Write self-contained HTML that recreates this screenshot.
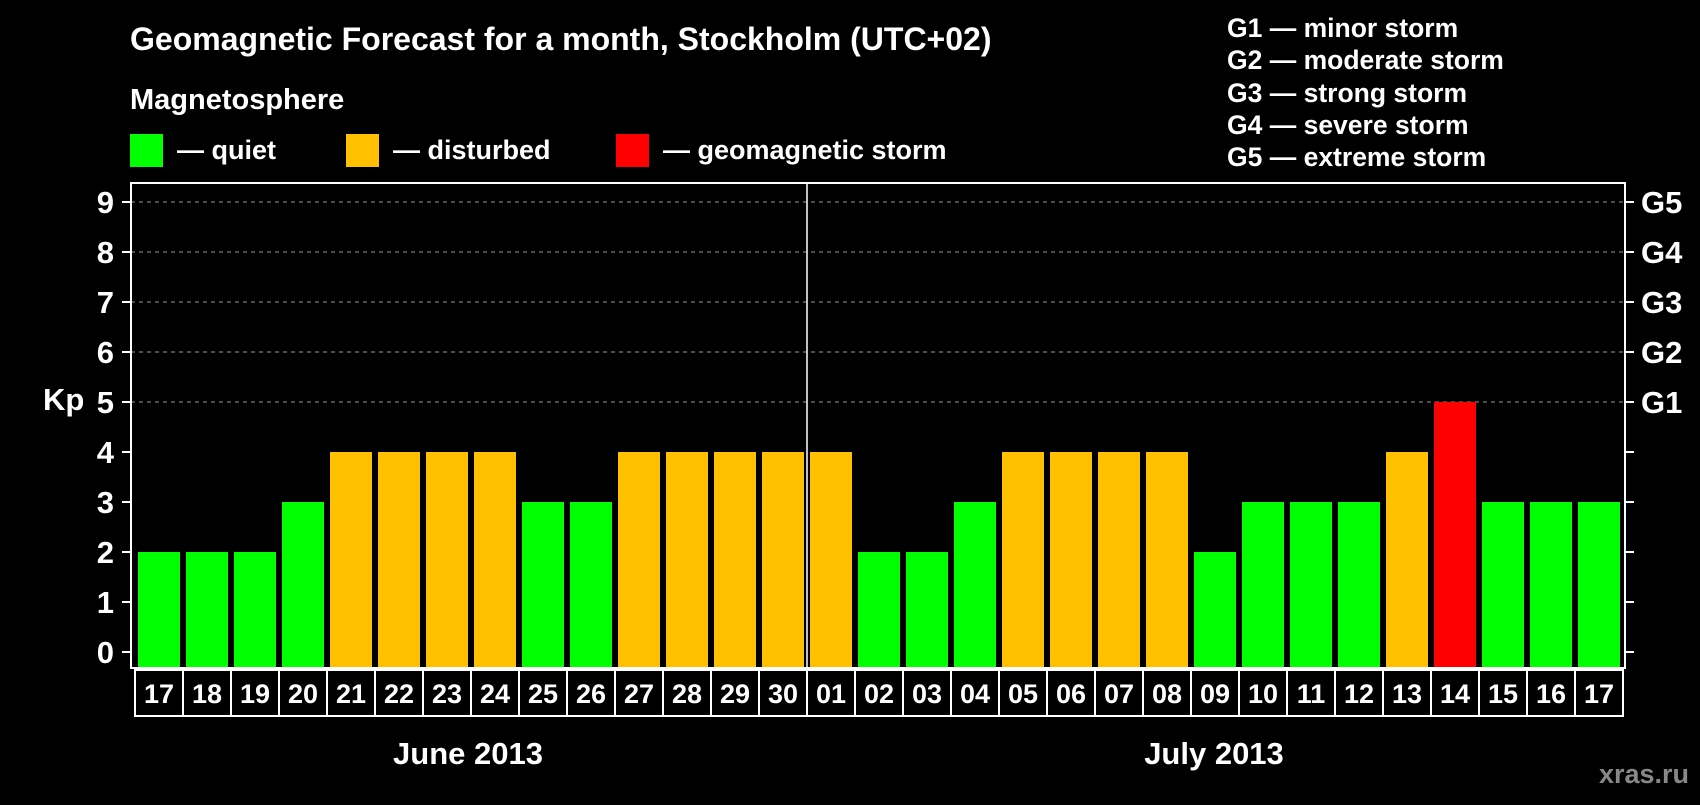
<!DOCTYPE html>
<html><head><meta charset="utf-8"><style>
body{margin:0;background:#000;width:1700px;height:800px;overflow:hidden}
svg text{font-family:"Liberation Sans",sans-serif;font-weight:bold;fill:#fff}
</style></head><body>
<svg id="chart" width="1700" height="800">
<text x="130" y="50" font-size="32">Geomagnetic Forecast for a month, Stockholm (UTC+02)</text>
<text x="130" y="109" font-size="29">Magnetosphere</text>
<rect x="130" y="134" width="33" height="33" fill="#00ff00"/>
<text x="177" y="159" font-size="27">— quiet</text>
<rect x="346" y="134" width="33" height="33" fill="#ffc000"/>
<text x="393" y="159" font-size="27">— disturbed</text>
<rect x="616" y="134" width="33" height="33" fill="#ff0000"/>
<text x="663" y="159" font-size="27">— geomagnetic storm</text>
<g font-size="26.5">
<text x="1227" y="37">G1 — minor storm</text>
<text x="1227" y="69">G2 — moderate storm</text>
<text x="1227" y="102">G3 — strong storm</text>
<text x="1227" y="134">G4 — severe storm</text>
<text x="1227" y="166">G5 — extreme storm</text>
</g>
<text x="43" y="410" font-size="31">Kp</text>
<text x="468" y="764" font-size="31" text-anchor="middle">June 2013</text>
<text x="1214" y="764" font-size="31" text-anchor="middle">July 2013</text>
<text x="1689" y="783" font-size="27" text-anchor="end" style="fill:#888">xras.ru</text>
<g id="plot"></g>
</svg>
<script>
const days=["17","18","19","20","21","22","23","24","25","26","27","28","29","30","01","02","03","04","05","06","07","08","09","10","11","12","13","14","15","16","17"];
const kp=[2,2,2,3,4,4,4,4,3,3,4,4,4,4,4,2,2,3,4,4,4,4,2,3,3,3,4,5,3,3,3];
const yTicks=[0,1,2,3,4,5,6,7,8,9];
const gLabels=["G1","G2","G3","G4","G5"];
const NS="http://www.w3.org/2000/svg";
const g=document.getElementById('plot');
const L=131,R=1625,T=183,B=668,y0=652,unit=50,x0=138,pitch=48,bw=42;
const y=v=>y0-v*unit, x=i=>x0+i*pitch;
function mk(tag,a){const e=document.createElementNS(NS,tag);for(const k in a)e.setAttribute(k,a[k]);g.appendChild(e);return e;}
yTicks.forEach(v=>{
 if(v>=5){const gl=mk('line',{x1:L,x2:R,y1:y(v),y2:y(v),stroke:'#999','stroke-dasharray':'4 4','stroke-width':1});
 
 }
 mk('line',{x1:L-9,x2:L,y1:y(v),y2:y(v),stroke:'#fff','stroke-width':2});
 mk('line',{x1:R,x2:R+9,y1:y(v),y2:y(v),stroke:'#fff','stroke-width':2});
 const t=mk('text',{x:114,y:y(v)+11,'font-size':31,'text-anchor':'end'});t.textContent=v;
 
 
});
gLabels.forEach((s,i)=>{const t=mk('text',{x:1641,y:y(5+i)+11,'font-size':31});t.textContent=s;
 
 });
kp.forEach((v,i)=>{
 const c=v>=5?'#ff0000':v>=4?'#ffc000':'#00ff00';
 const r=mk('rect',{x:x(i),y:y(v),width:bw,height:B-y(v),fill:c});
 
 
 const cx=x(i)+bw/2;
 const b=mk('rect',{x:cx-pitch/2,y:670,width:pitch,height:46,fill:'none',stroke:'#fff','stroke-width':2});
 
 
 const t=mk('text',{x:cx,y:703,'font-size':27,'text-anchor':'middle'});t.textContent=days[i];
 
 
});
const sx=x(14)-3;
const sep=mk('line',{x1:sx,x2:sx,y1:T,y2:B,stroke:'#fff','stroke-width':1.5});


const fr=mk('rect',{x:L,y:T,width:R-L,height:B-T,fill:'none',stroke:'#fff','stroke-width':2});


</script>
</body></html>
